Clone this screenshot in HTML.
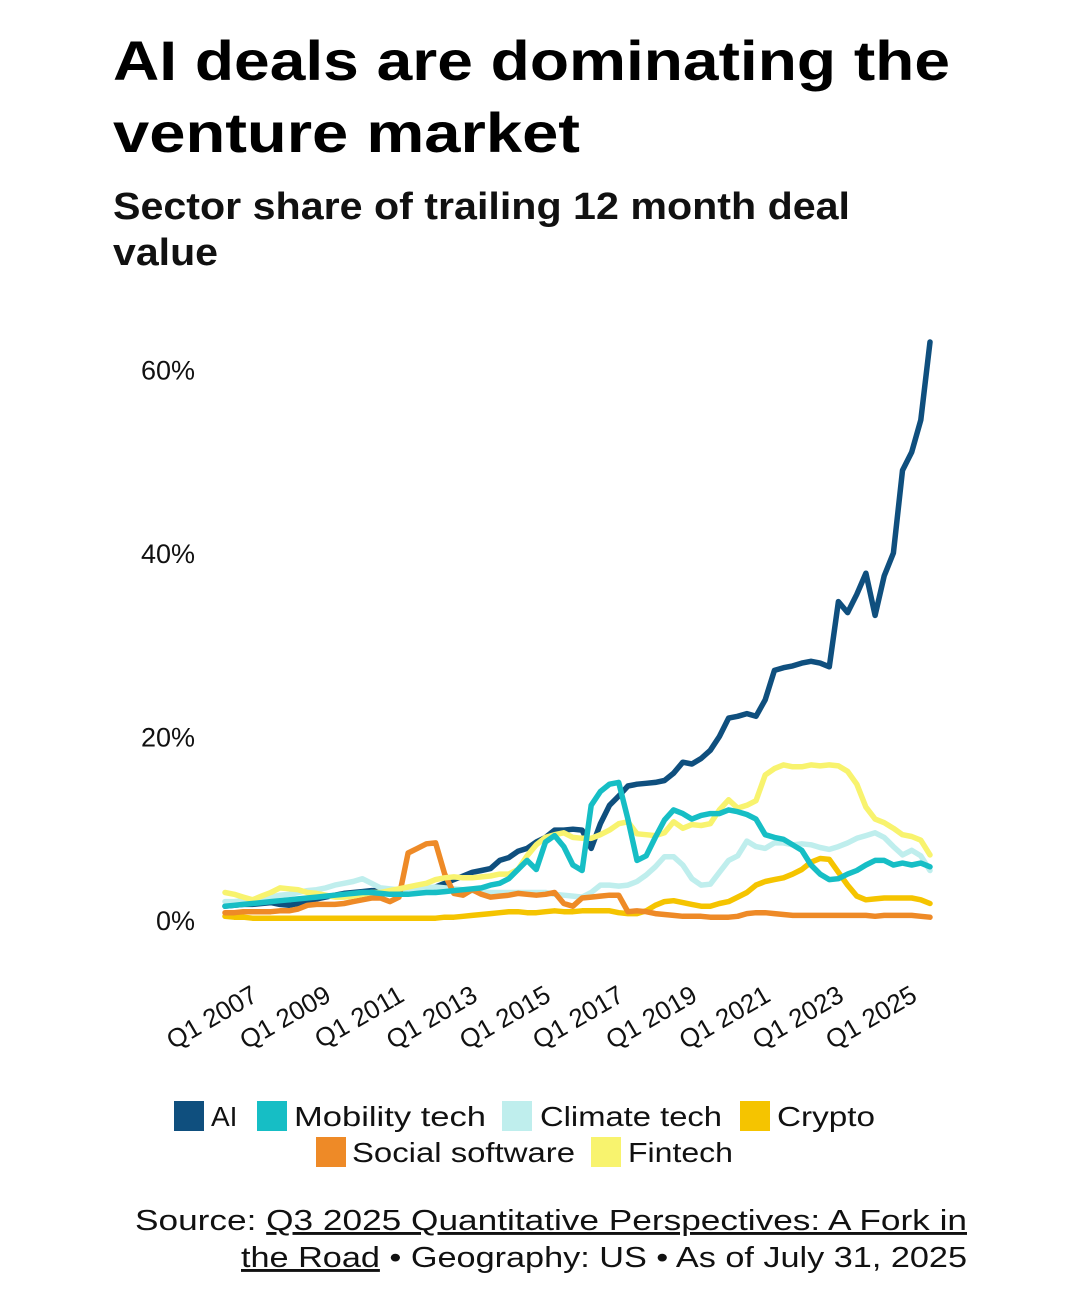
<!DOCTYPE html>
<html><head><meta charset="utf-8"><style>
html,body{margin:0;padding:0;background:#fff;}
svg{display:block;font-family:"Liberation Sans",sans-serif;}
</style></head><body>
<svg id="chart" width="1080" height="1307" viewBox="0 0 1080 1307" xmlns="http://www.w3.org/2000/svg">
<text x="113" y="80" font-size="56" font-weight="bold" fill="#000" textLength="837" lengthAdjust="spacingAndGlyphs">AI deals are dominating the</text>
<text x="113" y="152" font-size="56" font-weight="bold" fill="#000" textLength="467" lengthAdjust="spacingAndGlyphs">venture market</text>
<text x="113" y="219" font-size="38" font-weight="bold" fill="#111" textLength="737" lengthAdjust="spacingAndGlyphs">Sector share of trailing 12 month deal</text>
<text x="113" y="265" font-size="38" font-weight="bold" fill="#111" textLength="105" lengthAdjust="spacingAndGlyphs">value</text>
<g id="yaxis"></g>
<g id="xaxis"></g>
<g id="lines"></g>
<g font-size="28" fill="#111">
<rect x="174" y="1101" width="30" height="30" fill="#0f4f7e"/>
<text x="211" y="1126">AI</text>
<rect x="257" y="1101" width="30" height="30" fill="#16bec5"/>
<text x="294" y="1126" textLength="192" lengthAdjust="spacingAndGlyphs">Mobility tech</text>
<rect x="502" y="1101" width="30" height="30" fill="#bfeeed"/>
<text x="540" y="1126" textLength="182" lengthAdjust="spacingAndGlyphs">Climate tech</text>
<rect x="740" y="1101" width="30" height="30" fill="#f5c400"/>
<text x="777" y="1126" textLength="98" lengthAdjust="spacingAndGlyphs">Crypto</text>
<rect x="316" y="1137" width="30" height="30" fill="#ee8a27"/>
<text x="352" y="1162" textLength="223" lengthAdjust="spacingAndGlyphs">Social software</text>
<rect x="591" y="1137" width="30" height="30" fill="#f8f36e"/>
<text x="628" y="1162" textLength="105" lengthAdjust="spacingAndGlyphs">Fintech</text>
</g>
<text x="135" y="1230" font-size="29" fill="#111" textLength="832" lengthAdjust="spacingAndGlyphs">Source: <tspan text-decoration="underline">Q3 2025 Quantitative Perspectives: A Fork in</tspan></text>
<text x="241" y="1267" font-size="29" fill="#111" textLength="726" lengthAdjust="spacingAndGlyphs"><tspan text-decoration="underline">the Road</tspan> • Geography: US • As of July 31, 2025</text>
</svg>
<script>
const yTicks = [0, 20, 40, 60];
const xTickIdx = [3, 11, 19, 27, 35, 43, 51, 59, 67, 75];
const xTickLabels = ["Q1 2007","Q1 2009","Q1 2011","Q1 2013","Q1 2015","Q1 2017","Q1 2019","Q1 2021","Q1 2023","Q1 2025"];
const seriesNames = ["AI","Climate tech","Crypto","Social software","Fintech","Mobility tech"];
const seriesColors = ["#0f4f7e","#bfeeed","#f5c400","#ee8a27","#f8f36e","#16bec5"];
const climate = [2.0,2.0,2.1,2.2,2.3,2.5,2.7,2.8,3.0,3.2,3.3,3.5,3.8,4.0,4.2,4.5,4.0,3.5,3.4,3.3,3.2,3.3,3.5,3.6,3.5,3.4,3.3,3.2,3.1,3.0,3.0,3.0,3.0,3.0,3.0,3.0,2.8,2.7,2.6,2.5,3.0,3.8,3.8,3.7,3.8,4.2,4.9,5.8,6.9,6.9,6.0,4.5,3.8,3.9,5.2,6.5,7.0,8.6,8.0,7.8,8.4,8.4,8.2,8.3,8.2,7.9,7.7,8.0,8.4,8.9,9.2,9.5,9.0,8.0,7.1,7.6,7.0,5.4];
const crypto = [0.4,0.3,0.3,0.2,0.2,0.2,0.2,0.2,0.2,0.2,0.2,0.2,0.2,0.2,0.2,0.2,0.2,0.2,0.2,0.2,0.2,0.2,0.2,0.2,0.3,0.3,0.4,0.5,0.6,0.7,0.8,0.9,0.9,0.8,0.8,0.9,1.0,0.9,0.9,1.0,1.0,1.0,1.0,0.8,0.7,0.7,1.0,1.6,2.0,2.1,1.9,1.7,1.5,1.5,1.8,2.0,2.5,3.0,3.8,4.2,4.4,4.6,5.0,5.5,6.3,6.7,6.6,5.2,3.8,2.6,2.2,2.3,2.4,2.4,2.4,2.4,2.2,1.8];
const social = [0.8,0.8,0.9,0.9,0.9,0.9,1.0,1.0,1.2,1.6,1.7,1.7,1.7,1.8,2.0,2.2,2.4,2.4,2.0,2.5,7.3,7.8,8.3,8.4,5.0,2.9,2.7,3.3,2.8,2.5,2.6,2.7,2.9,2.8,2.7,2.8,3.0,1.8,1.5,2.4,2.5,2.6,2.7,2.7,0.9,1.0,0.9,0.7,0.6,0.5,0.4,0.4,0.4,0.3,0.3,0.3,0.4,0.7,0.8,0.8,0.7,0.6,0.5,0.5,0.5,0.5,0.5,0.5,0.5,0.5,0.5,0.4,0.5,0.5,0.5,0.5,0.4,0.3];
const fintech = [3.0,2.8,2.5,2.2,2.6,3.0,3.5,3.4,3.3,3.0,2.9,2.7,2.5,2.5,2.6,2.8,3.0,3.0,3.2,3.4,3.6,3.8,4.0,4.4,4.6,4.7,4.6,4.6,4.7,4.8,5.0,5.0,5.5,7.0,8.2,9.0,9.3,9.5,9.0,8.9,8.9,9.3,9.8,10.5,10.7,9.4,9.3,9.2,9.5,10.7,10.0,10.4,10.3,10.5,12.0,13.1,12.2,12.5,13.0,15.8,16.5,16.9,16.7,16.7,16.9,16.8,16.9,16.8,16.2,14.8,12.3,11.0,10.6,10.0,9.3,9.1,8.7,7.1];
const mobility = [1.5,1.6,1.7,1.8,1.9,2.0,2.1,2.2,2.3,2.4,2.5,2.6,2.7,2.8,2.9,3.0,3.0,2.9,2.8,2.8,2.8,2.9,3.0,3.0,3.1,3.2,3.3,3.4,3.5,3.8,4.0,4.5,5.5,6.5,5.5,8.5,9.2,8.0,6.0,5.4,12.5,14.0,14.8,15.0,11.0,6.5,7.0,9.0,10.9,12.0,11.6,11.0,11.4,11.6,11.6,12.0,11.8,11.5,11.0,9.3,9.0,8.8,8.2,7.6,6.0,5.0,4.4,4.5,5.0,5.4,6.0,6.5,6.5,6.0,6.2,6.0,6.2,5.8];
const ai = [1.5,1.6,1.7,1.7,1.8,1.9,1.7,1.6,1.8,2.0,2.3,2.5,2.7,2.9,3.0,3.1,3.2,3.2,3.1,3.0,3.0,3.1,3.3,3.6,4.0,4.4,4.8,5.2,5.4,5.6,6.5,6.8,7.5,7.8,8.5,9.0,9.8,9.8,9.9,9.8,7.8,10.5,12.5,13.5,14.6,14.8,14.9,15.0,15.2,16.0,17.2,17.0,17.6,18.5,20.0,22.0,22.2,22.5,22.2,24.0,27.2,27.5,27.7,28.0,28.2,28.0,27.6,34.7,33.5,35.5,37.8,33.2,37.5,40.0,49.0,51.0,54.5,63.0];
const allSeries = [ai, climate, crypto, social, fintech, mobility];

const NS = "http://www.w3.org/2000/svg";
const x0 = 225, x1 = 930, yZero = 920, pxPerPct = 9.175;
const nPts = ai.length;
function xScale(i){ return x0 + (x1 - x0) * i / (nPts - 1); }
function yScale(v){ return yZero - v * pxPerPct; }

const yAxis = document.getElementById('yaxis');
yTicks.forEach(t => {
  const tx = document.createElementNS(NS, 'text');
  
  
  tx.setAttribute('x', 195);
  tx.setAttribute('y', yScale(t) + 10);
  tx.setAttribute('text-anchor', 'end');
  tx.setAttribute('font-size', '27');
  tx.setAttribute('fill', '#111');
  tx.textContent = t + '%';
  yAxis.appendChild(tx);
});

const xAxis = document.getElementById('xaxis');
xTickIdx.forEach((idx, k) => {
  const tx = document.createElementNS(NS, 'text');
  
  
  const ax = xScale(idx) + 7, ay = 1000;
  tx.setAttribute('x', ax);
  tx.setAttribute('y', ay);
  tx.setAttribute('text-anchor', 'end');
  tx.setAttribute('font-size', '26');
  tx.setAttribute('fill', '#111');
  tx.setAttribute('transform', 'rotate(-30 ' + ax + ' ' + ay + ')');
  tx.textContent = xTickLabels[k];
  xAxis.appendChild(tx);
});

const lines = document.getElementById('lines');
allSeries.forEach((s, k) => {
  const p = document.createElementNS(NS, 'path');
  
  
  let d = '';
  s.forEach((v, i) => { d += (i ? 'L' : 'M') + xScale(i).toFixed(1) + ',' + yScale(v).toFixed(1); });
  p.setAttribute('d', d);
  p.setAttribute('fill', 'none');
  p.setAttribute('stroke', seriesColors[k]);
  p.setAttribute('stroke-width', '5.5');
  p.setAttribute('stroke-linejoin', 'round');
  p.setAttribute('stroke-linecap', 'round');
  lines.appendChild(p);
});
</script>
</body></html>
